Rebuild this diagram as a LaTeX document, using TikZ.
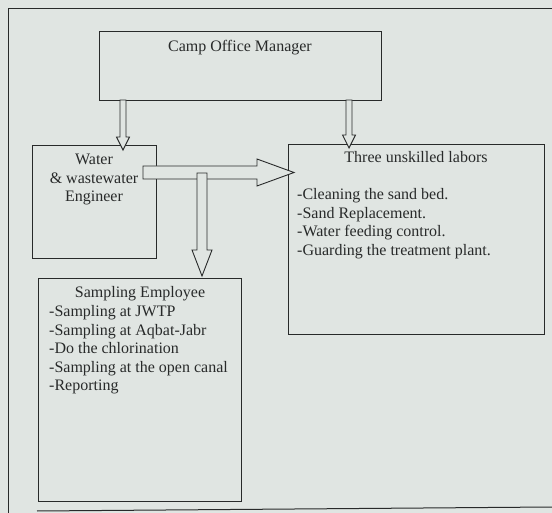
\documentclass[tikz,border=0pt]{standalone}
\usepackage{fontspec}
\setmainfont{Liberation Serif}
\definecolor{paper}{RGB}{224,229,226}
\definecolor{ink}{RGB}{40,42,42}
\begin{document}
\begin{tikzpicture}[x=1pt,y=-1pt,
  box/.style={draw=ink, line width=1.1pt, inner sep=0pt, anchor=north west},
  txt/.style={font=\fontsize{16}{18.5}\selectfont, inner sep=0pt, text=ink},
  barrow/.style={draw=ink, fill=paper, line width=0.9pt, line join=miter}]
\fill[paper] (0,0) rectangle (552,513);
\useasboundingbox (0,0) rectangle (552,513);
% outer frame (scanned page)
\draw[ink, line width=1pt] (8,513) -- (8,9) -- (552,9);
\draw[ink, line width=1pt] (37,511) -- (552,507);
% boxes
\node[box, minimum width=282pt, minimum height=69pt]  (mgr)  at (99,31)  {};
\node[box, minimum width=124pt, minimum height=113pt] (eng)  at (32,145) {};
\node[box, minimum width=256pt, minimum height=190pt] (lab)  at (288,144) {};
\node[box, minimum width=203pt, minimum height=223pt] (samp) at (38,278) {};
% texts
\node[txt, anchor=base] (mgrT) at (240,52) {Camp Office Manager};
\node[txt, anchor=base] (engA) at (94,165) {Water};
\node[txt, anchor=base] (engB) at (94,183.5) {\& wastewater};
\node[txt, anchor=base] (engC) at (94,202) {Engineer};
\node[txt, anchor=base] (labT) at (416,163) {Three unskilled labors};
\node[txt, anchor=base west] (labA) at (297,200) {-Cleaning the sand bed.};
\node[txt, anchor=base west] (labB) at (297,218.5) {-Sand Replacement.};
\node[txt, anchor=base west] (labC) at (297,237) {-Water feeding control.};
\node[txt, anchor=base west] (labD) at (297,255.5) {-Guarding the treatment plant.};
\node[txt, anchor=base] (sampT) at (140,298) {Sampling Employee};
\node[txt, anchor=base west] (sampA) at (49,316.5) {-Sampling at JWTP};
\node[txt, anchor=base west] (sampB) at (49,335) {-Sampling at Aqbat-Jabr};
\node[txt, anchor=base west] (sampC) at (49,353.5) {-Do the chlorination};
\node[txt, anchor=base west] (sampD) at (49,372) {-Sampling at the open canal};
\node[txt, anchor=base west] (sampE) at (49,390.5) {-Reporting};
% block arrows
\draw[barrow] (120,100) -- (120,137) -- (116.5,137) -- (123,150) -- (129.5,137) -- (126,137) -- (126,100) -- cycle;
\draw[barrow] (346,100) -- (346,135) -- (342.5,135) -- (349,148) -- (355.5,135) -- (352,135) -- (352,100) -- cycle;
\draw[barrow] (143,166) -- (257,166) -- (257,159) -- (294,172.5) -- (257,186) -- (257,179) -- (143,179) -- cycle;
\draw[barrow] (197,173) -- (197,250) -- (192,250) -- (202,276) -- (212,250) -- (207,250) -- (207,173) -- cycle;
\end{tikzpicture}
\end{document}
